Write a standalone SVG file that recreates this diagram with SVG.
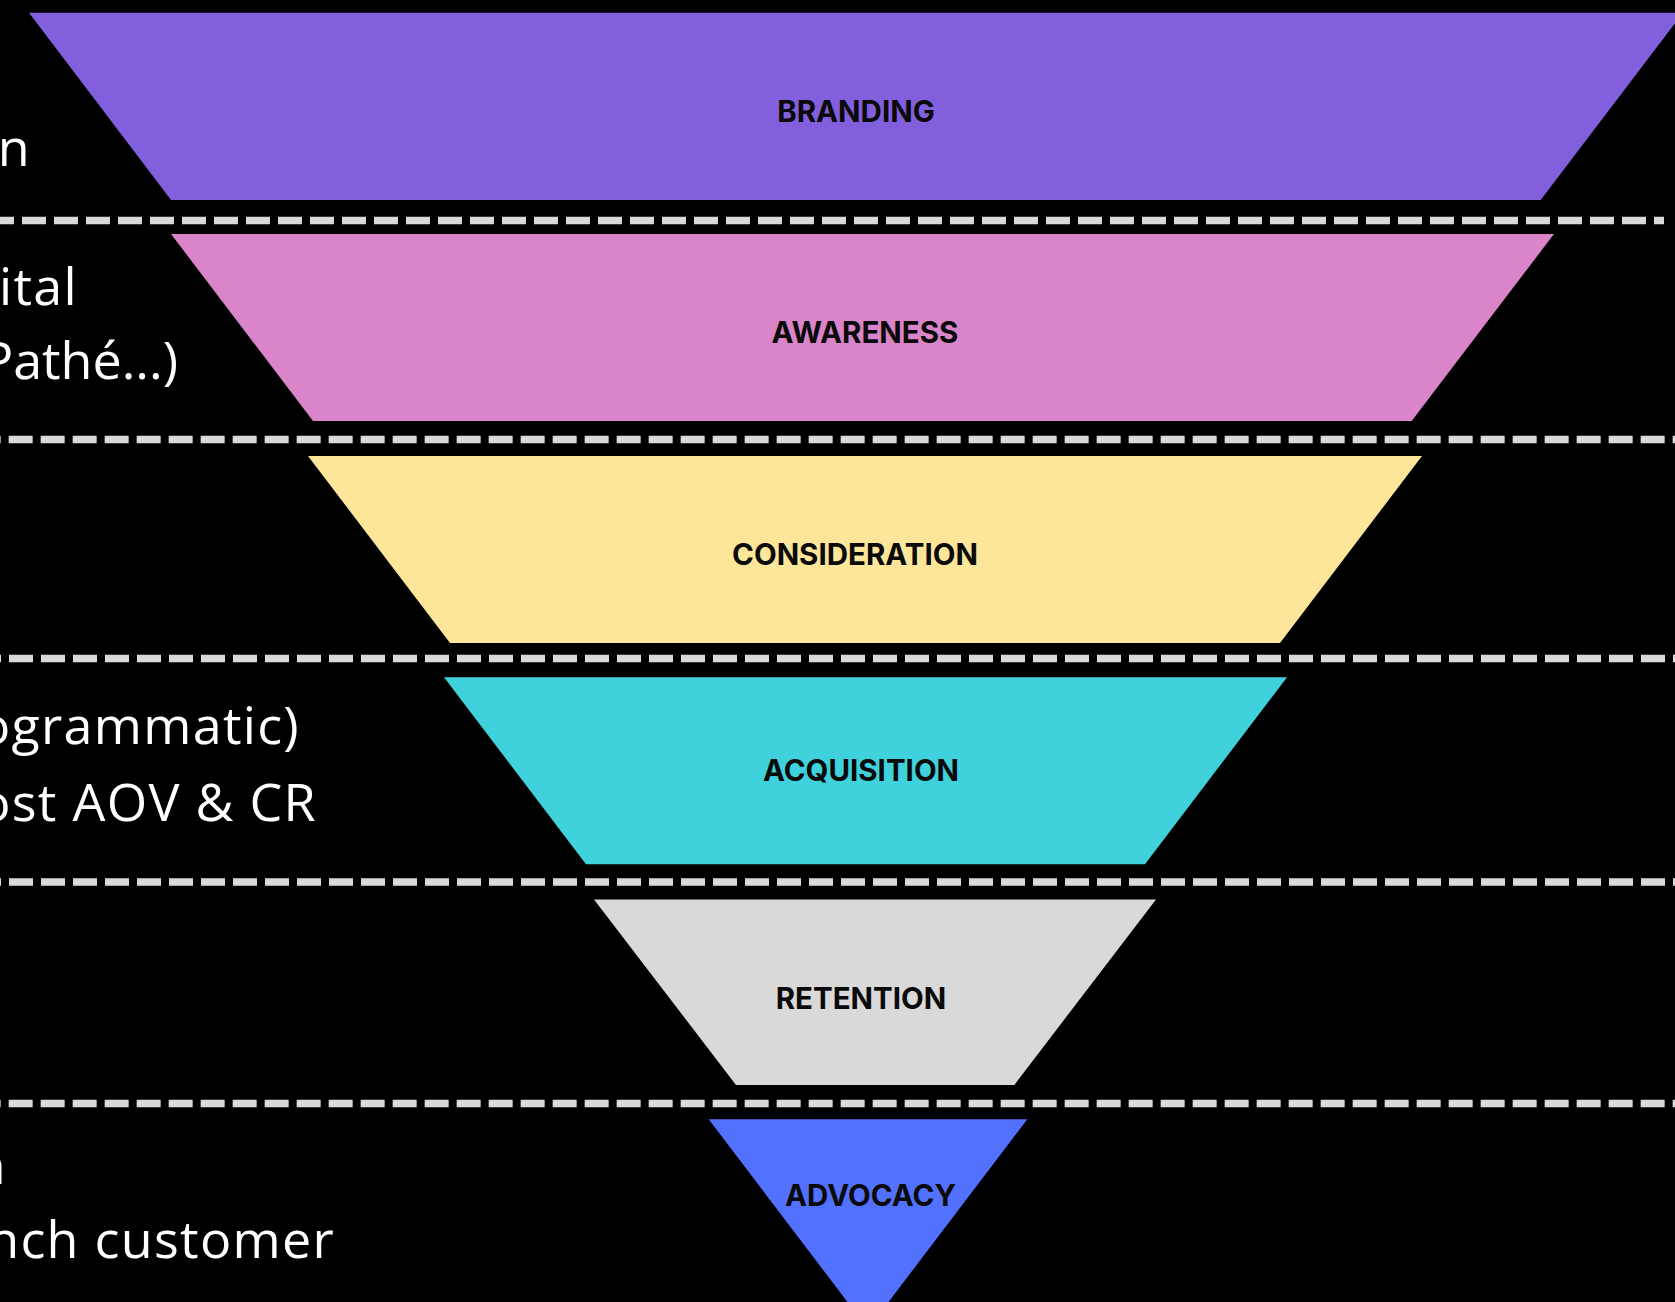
<svg xmlns="http://www.w3.org/2000/svg" width="1675" height="1302" viewBox="0 0 1675 1302">
  <style>
    .lbl { font-family: Inter, "Liberation Sans", sans-serif; font-weight: 700; font-size: 29.5px; fill: #0a0a0a; text-anchor: middle; }
    .side { font-family: "Open Sans", "Liberation Sans", sans-serif; font-weight: 400; font-size: 52px; letter-spacing: 1.3px; fill: #ffffff; text-anchor: end; }
    .tight { letter-spacing: 0px; }
    .dash { stroke: #d9d9d9; stroke-width: 7.5; stroke-dasharray: 24 8; fill: none; }
  </style>
  <rect x="0" y="0" width="1675" height="1302" fill="#000000"/>

  <g id="separators">
    <line class="dash" x1="-10" y1="220.5" x2="1664" y2="220.5"/>
    <line class="dash" x1="-23.33" y1="439.5" x2="1700" y2="439.5"/>
    <line class="dash" x1="-23" y1="658.5" x2="1700" y2="658.5"/>
    <line class="dash" x1="-23" y1="882" x2="1700" y2="882"/>
    <line class="dash" x1="-23.33" y1="1103.5" x2="1700" y2="1103.5"/>
  </g>

  <g id="branding">
    <polygon points="29,12.7 1683,12.7 1540.7,200 171,200" fill="#825fdc"/>
    <text class="lbl" x="856" y="121.5">BRANDING</text>
  </g>
  <g id="awareness">
    <polygon points="171,234 1554,234 1411.7,421 313,421" fill="#da84ca"/>
    <text class="lbl" x="865" y="343">AWARENESS</text>
  </g>
  <g id="consideration">
    <polygon points="308,456 1422,456 1280,643 450,643" fill="#fde699"/>
    <text class="lbl" x="855" y="565">CONSIDERATION</text>
  </g>
  <g id="acquisition">
    <polygon points="444,677.3 1287,677.3 1145,864.2 586,864.2" fill="#3fd2dc"/>
    <text class="lbl" x="861" y="781">ACQUISITION</text>
  </g>
  <g id="retention">
    <polygon points="594,899.4 1156,899.4 1014.3,1085 736,1085" fill="#d9d9d9"/>
    <text class="lbl" x="861" y="1008.5">RETENTION</text>
  </g>
  <g id="advocacy">
    <polygon points="708.7,1119.3 1027.3,1119.3 868,1329" fill="#5271ff"/>
    <text class="lbl" x="870.5" y="1206">ADVOCACY</text>
  </g>

  <g id="side-texts">
    <text class="side" x="31" y="166">n</text>
    <text class="side" x="78" y="305">ital</text>
    <text class="side tight" x="178" y="378.5">Pathé...)</text>
    <text class="side" x="300" y="744">ogrammatic)</text>
    <text class="side" x="317" y="820.5">ost AOV &amp; CR</text>
    <text class="side" x="7" y="1183.5">n</text>
    <text class="side" x="335" y="1257.5">nch customer</text>
  </g>
</svg>
